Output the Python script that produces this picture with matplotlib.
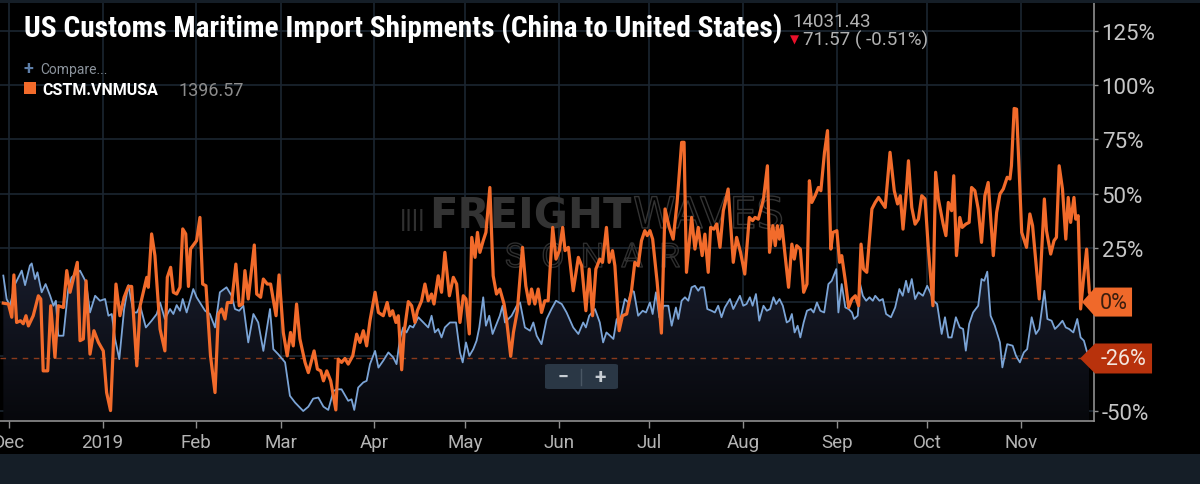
import numpy as np
import pandas as pd
import matplotlib
matplotlib.use('Agg')
from matplotlib import pyplot as plt
from matplotlib import font_manager
from matplotlib.colors import LinearSegmentedColormap
from matplotlib.patches import Polygon, FancyBboxPatch, Rectangle
from matplotlib.transforms import blended_transform_factory
import matplotlib.patheffects as pe

# --- data, days counted from 2018-11-28 ---
start = pd.Timestamp('2018-11-28')

blue_days = [1.1, 2.2, 3.3, 5.0, 7.2, 8.3, 9.9, 10.5, 11.6, 12.4, 13.8, 15.1, 16.6, 17.7, 18.5, 19.3, 21.0, 22.6,
             23.7, 26.5, 28.5, 29.8, 31.5, 33.1, 34.8, 35.9, 37.0, 38.1, 39.5, 41.1, 42.5, 44.2, 45.3, 46.4, 48.3,
             50.2, 51.9, 53.0, 54.6, 56.3, 57.4, 58.5, 59.6, 60.5, 61.8, 64.0, 65.1, 67.9, 69.5, 71.2, 72.8, 75.0,
             76.7, 77.8, 79.2, 80.6, 82.2, 83.9, 85.5, 87.2, 89.4, 90.5, 92.1, 94.4, 96.0, 97.7, 100.4, 102.1,
             103.7, 105.4, 107.1, 108.7, 110.4, 111.5, 113.1, 115.3, 116.4, 117.3, 118.6, 120.3, 121.4, 122.5,
             124.2, 125.3, 126.9, 128.6, 130.2, 131.3, 132.4, 133.5, 134.6, 135.7, 136.8, 138.5, 140.2, 141.8,
             142.9, 144.0, 145.1, 146.2, 147.3, 149.0, 151.0, 152.3, 153.2, 154.3, 155.4, 156.7, 157.8, 158.7,
             160.0, 160.9, 162.0, 163.1, 164.2, 165.5, 166.4, 167.2, 168.3, 169.4, 171.1, 172.2, 173.8, 175.5,
             176.6, 177.7, 179.3, 181.0, 182.6, 184.1, 186.0, 187.6, 189.8, 191.5, 193.1, 194.0, 195.1, 197.0,
             198.6, 199.7, 200.8, 202.0, 203.1, 204.2, 205.3, 206.9, 208.0, 209.1, 209.9, 211.3, 212.8, 213.9,
             215.2, 216.1, 217.2, 218.3, 219.8, 221.3, 222.4, 223.8, 224.6, 225.7, 226.8, 227.9, 229.0, 230.1,
             231.2, 232.0, 233.1, 234.2, 235.6, 236.7, 237.8, 238.9, 240.0, 241.7, 242.8, 243.9, 245.0, 246.1,
             247.2, 248.3, 249.2, 250.3, 251.4, 252.8, 253.9, 255.0, 256.1, 257.0, 258.1, 259.2, 260.5, 261.4,
             262.2, 263.1, 264.1, 265.0, 266.1, 267.2, 268.5, 269.4, 270.5, 271.6, 272.9, 274.3, 275.4, 276.9,
             277.6, 278.7, 279.9, 281.0, 282.1, 282.8, 284.0, 284.8, 285.7, 286.8, 287.9, 289.0, 289.8, 291.2,
             292.3, 293.4, 295.0, 296.4, 297.8, 298.9, 300.0, 300.8, 301.9, 303.0, 304.1, 305.6, 307.0, 308.0,
             309.1, 310.3, 311.8, 312.9, 314.0, 315.1, 316.5, 317.8, 318.9, 319.8, 320.9, 322.2, 323.9, 325.0,
             325.9, 326.9, 328.0, 329.4, 331.1, 331.9, 333.5, 335.3, 336.4, 337.7, 339.0, 340.1, 341.6, 343.0,
             344.1, 345.8, 346.8, 348.2, 349.3, 350.4, 351.8, 352.9, 354.0, 355.4, 356.7, 357.8, 358.9, 359.8,
             360.6]
blue_vals = [12.2, 1.4, -1.7, 8.3, 14.5, 7.8, 16.8, 17.8, 10.6, 13.7, 4.5, 8.3, 2.9, -1.7, 0.6, -15.5, -15.5, 6.0,
             11.4, 14.5, 9.1, -4.8, 2.9, 0.6, 1.4, -6.3, -5.5, -17.0, -26.3, -3.2, 7.8, -4.8, -4.8, -1.7, -11.7,
             -8.6, -5.5, -0.2, -7.8, -3.2, -5.5, -1.4, -4.0, 1.4, -4.8, 6.0, 2.2, -4.0, -5.5, -11.7, 4.5, 6.8,
             2.9, -3.2, -4.0, -1.7, -18.6, -5.5, -9.4, -22.5, -3.2, -21.7, -24.0, -27.8, -43.2, -46.3, -50.2, -48.2,
             -44.5, -44.0, -48.2, -49.7, -41.0, -40.2, -40.2, -45.5, -44.8, -49.7, -39.4, -37.0, -36.3, -28.6,
             -22.5, -30.2, -27.0, -23.2, -25.5, -28.6, -17.0, -11.7, -14.0, -10.9, -11.7, -7.0, -9.4, -11.7,
             -6.3, -14.0, -12.4, -16.3, -11.7, -9.4, -9.4, -23.2, -27.8, -18.6, -24.8, -21.7, -17.8, -11.7,
             2.2, -10.9, -6.3, -14.7, -10.9, -6.3, -1.7, -9.4, -7.8, -6.3, -1.7, -0.2, -11.7, -13.2,
             -9.4, -15.5, -19.4, -7.8, -3.2, 0.6, -0.9, -4.8, -11.7, -14.7, -9.4, -11.7, -6.3, -3.2,
             -9.4, -18.6, -14.0, -15.5, -17.0, -7.8, -8.6, 1.4, -0.2, 5.2, 4.8, -6.3, -4.0, -4.8,
             -0.2, -5.5, 4.5, -7.0, -1.7, -1.7, -10.9, -2.5, -7.8, 0.6, 2.2, 0.6, 6.8, 7.5,
             5.2, 6.8, 6.8, -3.2, -4.0, -4.8, -1.7, -7.0, -2.5, 1.4, -3.2, -0.2, 2.9, -1.7,
             -0.9, 2.2, -1.7, 3.7, -8.6, -1.7, -4.0, -3.2, 2.2, -0.9, 1.4, -1.7, -9.4, -8.6,
             -5.5, -14.0, -10.9, -16.3, -9.4, -4.0, -3.2, -4.8, -0.2, -4.0, -4.8, 8.3, 9.8, 15.2,
             -4.8, 8.3, -2.5, -3.2, -4.8, -7.8, -6.3, 8.3, 2.9, 0.6, 2.2, 0.6, 2.9, 0.6,
             1.4, -5.5, -7.0, -2.5, 6.0, 2.9, 9.8, 4.5, 10.6, 1.4, 4.5, 2.9, 7.5, 4.5,
             0.6, -0.9, -14.7, -7.0, -16.3, -16.3, -7.0, -11.7, -12.4, -22.4, -10.1, -4.8, -1.7, 10.6,
             9.8, 14.0, -6.3, -10.9, -18.6, -30.1, -19.4, -20.1, -24.7, -27.8, -23.2, -21.7, -7.0, -14.7,
             -12.4, 5.2, -7.8, -8.6, -12.4, -10.9, -8.6, -11.7, -12.4, -14.0, -7.8, -16.3, -17.8, -22.4,
             -25.5]

orange_days = [1.1, 2.8, 3.9, 4.6, 5.5, 6.8, 7.7, 8.6, 9.4, 11.0, 12.7, 13.5, 14.3, 15.8, 16.8, 18.2, 19.3, 21.0,
               22.1, 23.2, 25.6, 26.5, 27.6, 28.5, 29.8, 31.1, 32.6, 34.2, 35.3, 36.6, 38.4, 39.7, 41.1, 42.5,
               43.6, 45.3, 46.4, 48.6, 49.1, 50.2, 51.3, 53.0, 54.6, 55.4, 56.5, 57.4, 58.5, 59.6, 60.5, 61.5,
               62.4, 63.1, 65.1, 66.2, 67.1, 68.2, 69.7, 71.2, 72.3, 73.4, 74.5, 75.3, 76.7, 78.1, 79.2, 80.3,
               81.1, 82.2, 84.2, 85.0, 86.3, 87.2, 88.5, 89.6, 91.4, 92.4, 93.8, 95.1, 96.2, 97.1, 98.2, 99.3,
               101.0, 102.1, 104.0, 105.1, 106.2, 107.1, 108.2, 109.5, 111.2, 112.0, 113.1, 114.2, 115.3, 116.8,
               118.1, 119.2, 120.3, 121.4, 122.5, 124.2, 125.3, 126.9, 128.2, 129.1, 130.0, 131.1, 131.9, 133.0,
               133.8, 135.2, 136.3, 137.4, 138.2, 139.6, 140.7, 141.8, 142.9, 143.7, 145.1, 146.2, 147.3, 148.8,
               150.1, 151.2, 152.3, 153.4, 154.3, 155.4, 156.2, 157.3, 158.1, 158.9, 160.0, 160.9, 162.2, 163.3,
               164.4, 165.5, 166.9, 167.7, 169.1, 170.0, 171.3, 173.0, 174.1, 175.2, 176.0, 177.1, 178.2, 179.3,
               180.4, 181.5, 183.0, 184.1, 185.2, 186.3, 187.1, 188.2, 189.8, 191.5, 192.6, 194.0, 195.1, 196.2,
               197.3, 198.6, 199.5, 200.8, 201.7, 202.8, 203.6, 205.0, 206.1, 207.5, 209.1, 210.2, 211.3, 212.4,
               213.5, 214.3, 215.2, 216.1, 217.6, 219.0, 220.2, 221.6, 222.9, 224.2, 225.7, 226.5, 227.3, 229.0,
               230.1, 231.2, 232.5, 233.4, 234.5, 235.3, 236.4, 237.3, 238.4, 239.5, 241.1, 242.8, 243.9, 245.2,
               246.6, 248.1, 249.2, 250.0, 251.1, 252.8, 254.1, 254.8, 255.9, 256.7, 257.4, 258.1, 258.9, 261.1,
               262.2, 263.0, 263.8, 265.0, 266.1, 267.2, 268.0, 268.8, 269.9, 271.0, 271.8, 273.0, 274.0, 275.1,
               275.8, 277.1, 278.0, 278.7, 279.9, 281.0, 282.1, 283.2, 284.3, 285.1, 285.9, 287.0, 288.7, 289.8,
               290.9, 292.0, 293.1, 294.7, 296.1, 297.2, 298.1, 299.0, 300.0, 300.8, 301.9, 303.0, 304.1, 305.2,
               306.3, 307.4, 308.9, 309.8, 310.7, 312.3, 313.2, 314.0, 315.1, 315.8, 316.7, 317.8, 318.6, 319.8,
               320.9, 321.7, 322.8, 323.9, 325.0, 326.1, 327.2, 328.9, 330.0, 331.1, 332.2, 333.5, 334.4, 334.9,
               335.8, 336.6, 337.1, 338.3, 339.9, 341.0, 341.9, 343.0, 344.1, 345.8, 346.5, 347.9, 349.0, 349.8,
               350.7, 351.8, 352.9, 353.7, 354.5, 355.6, 356.2, 357.0, 357.8, 358.7, 359.8, 360.7, 361.1]
orange_vals = [-0.5, -0.9, -7.0, 12.5, -9.4, -8.6, -10.0, -6.3, -11.0, -6.3, 2.9, 1.4, -31.7, -31.7, -1.7, -25.5, -1.7, -2.5,
               14.5, 4.5, 18.3, -17.8, -17.0, 9.8, -24.0, -13.2, -18.6, -22.5, -41.7, -50.0, 8.3, -6.3, 2.2, 7.2,
               7.2, -29.4, -1.7, 11.4, 6.8, 31.4, 21.4, -12.5, -22.5, 11.4, 16.0, 4.5, 3.7, 6.8, 33.7, 31.4,
               7.2, 24.5, 28.3, 39.0, 8.3, 7.5, -24.8, -41.7, -5.5, -3.2, -7.8, -0.2, -0.2, 17.5, -1.7, -0.9,
               14.5, 1.4, 26.3, 3.7, 2.2, 10.6, 8.3, 8.3, -6.3, 12.5, -14.0, -24.8, -14.0, -20.2, -0.9, -17.0,
               -27.8, -32.5, -22.5, -30.9, -31.7, -36.3, -31.7, -36.3, -49.7, -26.3, -27.8, -26.0, -28.6, -24.8,
               -14.8, -18.6, -13.2, -20.2, -8.6, 4.5, -4.8, -6.3, -0.2, -6.3, -4.0, -9.4, -6.3, -31.2,
               -14.0, 0.2, -1.7, -9.4, -4.0, 0.6, 8.3, 0.6, 3.7, -0.9, 12.1, 4.5, 22.9, 2.9,
               11.4, 8.3, -9.4, 2.9, 1.4, -14.7, 29.8, 20.6, 32.1, 22.9, 28.3, 32.1, 52.8, 12.1,
               3.7, 6.0, -0.9, -7.8, -25.0, -14.0, -4.0, 25.2, 7.5, -0.9, 6.0, -0.9, 6.0, -4.8,
               0.6, 0.6, 34.4, 19.8, 23.7, 34.4, 23.7, 25.2, 5.2, 20.6, 16.7, -4.0, 15.2, -6.3,
               15.2, 19.8, 18.3, 34.4, 18.3, 23.7, 16.7, -13.2, -6.3, -5.5, 5.2, 18.3, 16.7, 28.3,
               32.9, 30.6, 32.9, 29.0, 9.1, -14.3, 42.9, 34.4, 29.0, 45.9, 73.6, 73.6, 13.7, 39.0,
               24.4, 34.4, 21.4, 31.3, 13.7, 34.4, 33.6, 36.0, 25.2, 42.1, 52.1, 18.3, 29.8, 22.9,
               12.9, 39.0, 37.5, 39.0, 38.2, 47.5, 62.8, 22.9, 35.2, 26.0, 35.2, 29.0, 35.2, 6.8,
               26.7, 19.8, 26.0, 24.4, 4.5, 8.3, 55.9, 45.9, 49.0, 52.8, 51.3, 69.0, 79.0, 24.4,
               32.1, 32.9, 18.3, 21.4, 9.8, -2.5, 1.4, 2.9, -1.7, 26.7, 15.2, 13.7, 42.9, 45.9,
               48.2, 45.9, 43.6, 69.0, 51.3, 45.2, 49.0, 33.6, 49.0, 65.1, 43.6, 35.9, 38.2, 49.0,
               47.5, 24.4, -1.7, 59.8, 47.5, 35.9, 30.6, 45.9, 42.1, 58.2, 21.4, 39.0, 34.4, 35.9,
               36.7, 52.8, 51.3, 42.9, 27.5, 49.0, 55.1, 21.4, 41.3, 49.8, 52.1, 57.5, 56.7, 62.8,
               89.2, 88.9, 72.0, 32.1, 25.2, 40.6, 35.2, 18.3, 1.4, 47.5, 32.9, 22.1, 28.3, 29.8,
               62.8, 52.1, 29.0, 48.2, 36.7, 48.2, 38.2, 39.8, -3.2, 9.8, 24.4, 4.5, 2.9]

month_starts = ['2018-12-01', '2019-01-01', '2019-02-01', '2019-03-01', '2019-04-01', '2019-05-01',
                '2019-06-01', '2019-07-01', '2019-08-01', '2019-09-01', '2019-10-01', '2019-11-01']
month_labels = ['Dec', '2019', 'Feb', 'Mar', 'Apr', 'May', 'Jun', 'Jul', 'Aug', 'Sep', 'Oct', 'Nov']
y_ticks = [-50, -25, 0, 25, 50, 75, 100, 125]
y_labels = ['-50%', '', '', '25%', '50%', '75%', '100%', '125%']
orange_tag, blue_tag = 0, -26

# fonts
installed = {f.name for f in font_manager.fontManager.ttflist}
narrow = next((f for f in ['Roboto Condensed', 'Liberation Sans Narrow', 'Roboto'] if f in installed), 'DejaVu Sans')
plt.rcParams['font.family'] = ['Roboto', 'DejaVu Sans']

ORANGE = '#f26b2b'
BLUE = '#7ba4d6'
GRID = '#1b2631'
AXIS = '#8e8e8e'

fig = plt.figure(figsize=(12, 4.85), dpi=100, facecolor='black')
ax = fig.add_axes([0.0, 0.1299, 0.9117, 0.8619])
ax.set_facecolor('black')

xmin, xmax = 0, 1094 / 3.02
ymin, ymax = -54.8, 137.8

bx = np.array(blue_days)
by = np.array(blue_vals)
ox = np.array(orange_days)
oy = np.array(orange_vals)

# gradient area under the blue line
poly = ax.fill_between(bx, by, ymin, facecolor='none', edgecolor='none')
grad = np.linspace(0, 1, 256).reshape(-1, 1)
cmap = LinearSegmentedColormap.from_list('shade', ['#07080c', '#181c2b'])
im = ax.imshow(grad, extent=[bx.min(), bx.max(), ymin, by.max()], aspect='auto', cmap=cmap,
               origin='lower', zorder=1)
im.set_clip_path(poly.get_paths()[0], transform=ax.transData)

ax.axhline(blue_tag, color='#8a3a1c', lw=1.0, ls=(0, (4, 4)), zorder=2)
ax.plot(bx, by, color=BLUE, lw=1.3, zorder=3)
ax.plot(ox, oy, color=ORANGE, lw=2.3, zorder=4)

ax.set_xlim(xmin, xmax)
ax.set_ylim(ymin, ymax)

tick_pos = [(pd.Timestamp(d) - start).days for d in month_starts]
ax.set_xticks(tick_pos)
ax.set_xticklabels(month_labels)
ax.yaxis.tick_right()
ax.set_yticks(y_ticks)
ax.set_yticklabels(y_labels)
ax.grid(True, color=GRID, lw=1.2, zorder=0)
ax.set_axisbelow(True)

for s in ['top', 'left']:
    ax.spines[s].set_visible(False)
for s in ['right', 'bottom']:
    ax.spines[s].set_color(AXIS)
    ax.spines[s].set_linewidth(1.2)
ax.tick_params(axis='x', colors=AXIS, length=5, width=1, pad=4, labelsize=13.5, labelcolor='#b4b4b4')
ax.tick_params(axis='y', colors=AXIS, length=3, width=1, pad=2.5, labelsize=16, labelcolor='#c6c6c6')

# watermark
wm = dict(transform=ax.transAxes, zorder=0.8, va='baseline', ha='left')
ax.text(400 / 1094, (422 - 228) / 418, '||||', color='#303030', fontsize=18, fontweight='bold', **wm)
ax.text(429 / 1094, (422 - 229) / 418, 'FREIGHT', color='#333333', fontsize=30, fontweight='bold',
        family='DejaVu Sans', **wm)
ax.text(633 / 1094, (422 - 229) / 418, 'WAVES', color=(0, 0, 0, 0), fontsize=31, family='DejaVu Sans',
        path_effects=[pe.Stroke(linewidth=1.0, foreground='#333333')], **wm)
ax.text(505 / 1094, (422 - 268) / 418, 'S  O  N  A  R', color=(0, 0, 0, 0), fontsize=24,
        path_effects=[pe.Stroke(linewidth=1.0, foreground='#2e2e2e')], **wm)

# zoom control
fig.patches.append(FancyBboxPatch((545 / 1200, 1 - 390 / 485), 73 / 1200, 25 / 485,
                                  boxstyle='round,pad=0,rounding_size=0.003', transform=fig.transFigure,
                                  facecolor='#2a3745', edgecolor='none', zorder=5))
fig.text(563 / 1200, 1 - 378 / 485, '\u2212', color='#c8ced4', fontsize=14, fontweight='bold',
         ha='center', va='center', zorder=6)
fig.text(600 / 1200, 1 - 378 / 485, '+', color='#c8ced4', fontsize=15, fontweight='bold',
         ha='center', va='center', zorder=6)
fig.lines.append(plt.Line2D([581 / 1200, 581 / 1200], [1 - 370 / 485, 1 - 386 / 485],
                            transform=fig.transFigure, color='#4a5764', lw=1, zorder=6))

# last-value tags on the right
tr = blended_transform_factory(ax.transAxes, ax.transData)
h_o = 14.5 / 2.17
ax.add_patch(Polygon([(1082 / 1094, orange_tag), (1095 / 1094, orange_tag + h_o), (1132 / 1094, orange_tag + h_o),
                      (1132 / 1094, orange_tag - h_o), (1095 / 1094, orange_tag - h_o)],
                     closed=True, transform=tr, facecolor='#f0692a', edgecolor='none', clip_on=False, zorder=10))
ax.text(1114 / 1094, orange_tag, f'{orange_tag}%', transform=tr, color='#3a1d0e', fontsize=15.5,
        ha='center', va='center', zorder=11, clip_on=False)
h_b = 15 / 2.17
ax.add_patch(Polygon([(1080 / 1094, blue_tag), (1095 / 1094, blue_tag + h_b), (1152 / 1094, blue_tag + h_b),
                      (1152 / 1094, blue_tag - h_b), (1095 / 1094, blue_tag - h_b)],
                     closed=True, transform=tr, facecolor='#b8320c', edgecolor='none', clip_on=False, zorder=10))
ax.text(1123 / 1094, blue_tag, f'{blue_tag}%', transform=tr, color='#f4e6de', fontsize=15.5,
        ha='center', va='center', zorder=11, clip_on=False)

# frame bands
fig.patches.append(Rectangle((0, 0), 1, 30 / 485, transform=fig.transFigure, facecolor='#151e27',
                             edgecolor='none', zorder=0))
fig.patches.append(Rectangle((0, 1 - 4 / 485), 1, 4 / 485, transform=fig.transFigure, facecolor='#151e27',
                             edgecolor='none', zorder=0))

# header texts
fig.text(24 / 1200, 1 - 37 / 485, 'US Customs Maritime Import Shipments (China to United States)',
         color='white', fontsize=21.2, fontweight='bold', family=[narrow, 'DejaVu Sans'], va='baseline')
fig.text(792 / 1200, 1 - 27 / 485, '14031.43', color='#b2b2b2', fontsize=13.5, va='baseline')
fig.text(790 / 1200, 1 - 40 / 485, '\u25bc', color='#e8102a', fontsize=8.5, family='DejaVu Sans',
         va='center')
fig.text(803 / 1200, 1 - 46 / 485, '71.57 ( -0.51%)', color='#b2b2b2', fontsize=13.5, va='baseline')
fig.text(23 / 1200, 1 - 69 / 485, '+', color='#5d7ea8', fontsize=13, fontweight='bold', va='center')
fig.text(40 / 1200, 1 - 70 / 485, 'Compare...', color='#8b939c', fontsize=10, va='center')
fig.patches.append(Rectangle((24 / 1200, 1 - 95 / 485), 12 / 1200, 12 / 485, transform=fig.transFigure,
                             facecolor=ORANGE, edgecolor='none'))
fig.text(42 / 1200, 1 - 95 / 485, 'CSTM.VNMUSA', color='white', fontsize=11.5, fontweight='bold',
         va='baseline')
fig.text(178 / 1200, 1 - 96 / 485, '1396.57', color='#8c8c8c', fontsize=13, va='baseline')

fig.savefig('out.png', dpi=100, facecolor='black')
